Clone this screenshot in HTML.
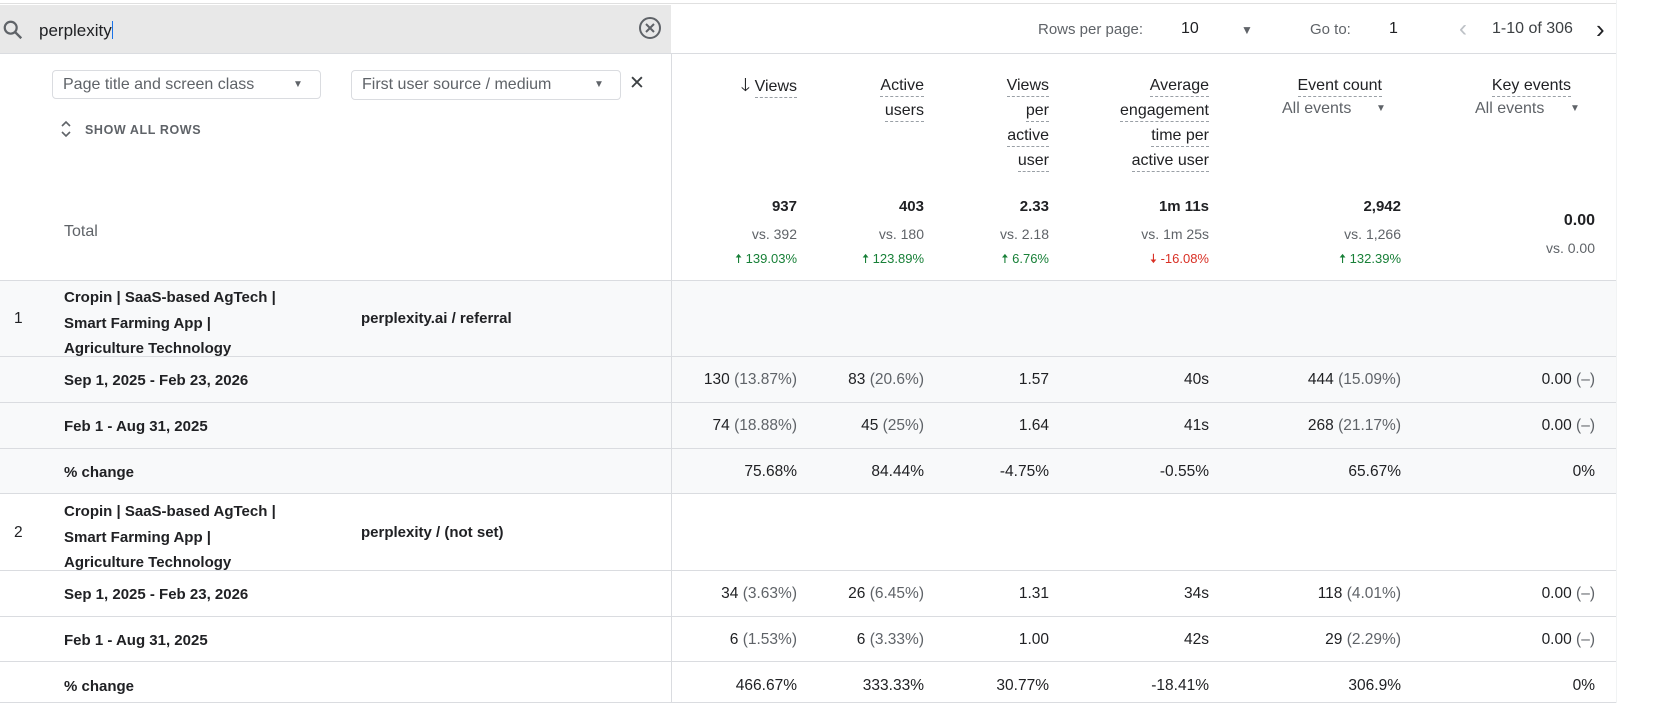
<!DOCTYPE html>
<html><head><meta charset="utf-8"><style>
*{margin:0;padding:0;box-sizing:border-box}
body{width:1667px;height:703px;background:#fff;font-family:"Liberation Sans",Arial,sans-serif;color:#202124;position:relative;overflow:hidden}
.a{position:absolute;white-space:nowrap;line-height:1}
.r{position:absolute;white-space:nowrap;line-height:1;text-align:right}
.band{position:absolute;left:0;width:1616px;background:#f8f9fa}
.hl{position:absolute;left:0;width:1616px;height:1px;background:#dadce0}
.u{border-bottom:1.5px dashed #9aa0a6;padding-bottom:2px}
.m{font-size:15.5px;color:#202124}
.g{color:#5f6368}
.s{font-size:14px;color:#5f6368}
.b{font-weight:bold;font-size:15px}
</style></head><body>
<div class="hl" style="top:3px;width:1616px;background:#e0e0e0"></div>
<div style="position:absolute;left:0;top:5px;width:671px;height:48px;background:#e8e8e8"></div>
<div style="position:absolute;left:1616px;top:0;width:1px;height:703px;background:#f1f3f4"></div>
<svg class="a" style="left:2px;top:19px" width="22" height="22" viewBox="0 0 24 24"><circle cx="9.5" cy="9.5" r="6.5" fill="none" stroke="#5f6368" stroke-width="2.4"/><line x1="14" y1="14" x2="21" y2="21" stroke="#5f6368" stroke-width="2.6"/></svg>
<div class="a" style="left:39px;top:21px;font-size:17px;color:#202124">perplexity<span style="display:inline-block;width:1px;height:18px;background:#1a73e8;vertical-align:-3px"></span></div>
<svg class="a" style="left:638px;top:16px" width="24" height="24" viewBox="0 0 24 24"><circle cx="12" cy="12" r="10" fill="none" stroke="#5f6368" stroke-width="2"/><path d="M8 8L16 16M16 8L8 16" stroke="#5f6368" stroke-width="2"/></svg>
<div class="hl" style="top:53px"></div>
<div style="position:absolute;left:671px;top:53px;width:1px;height:650px;background:#dadce0"></div>

<div class="a g" style="left:1038px;top:22px;font-size:15px">Rows per page:</div>
<div class="a" style="left:1181px;top:21px;font-size:16px">10</div>
<div class="a g" style="left:1241px;top:24px;font-size:12px">▼</div>
<div class="a g" style="left:1310px;top:22px;font-size:15px">Go to:</div>
<div class="a" style="left:1389px;top:21px;font-size:16px">1</div>
<div class="a" style="left:1459px;top:17px;font-size:24px;color:#bdc1c6">&#x2039;</div>
<div class="a" style="left:1492px;top:21px;font-size:16px;color:#3c4043">1-10 of 306</div>
<div class="a" style="left:1596px;top:16px;font-size:26px;color:#202124">&#x203A;</div>

<div style="position:absolute;left:52px;top:70px;width:269px;height:29px;border:1px solid #dadce0;border-radius:4px"></div>
<div class="a g" style="left:63px;top:77px;font-size:16px">Page title and screen class</div>
<div class="a g" style="left:293px;top:80px;font-size:10px">▼</div>
<div style="position:absolute;left:351px;top:70px;width:270px;height:30px;border:1px solid #dadce0;border-radius:4px"></div>
<div class="a g" style="left:362px;top:77px;font-size:16px">First user source / medium</div>
<div class="a g" style="left:594px;top:80px;font-size:10px">▼</div>
<div class="a" style="left:629px;top:74px;font-size:19px;color:#3c4043">✕</div>
<svg class="a" style="left:60px;top:119px" width="12" height="20" viewBox="0 0 12 20"><path d="M2 7L6 3L10 7M2 13L6 17L10 13" fill="none" stroke="#5f6368" stroke-width="1.6"/></svg>
<div class="a g" style="left:85px;top:124px;font-size:12.5px;font-weight:bold;letter-spacing:0.6px">SHOW ALL ROWS</div>
<div class="a g" style="left:64px;top:224px;font-size:16px">Total</div>

<div class="r" style="right:870px;top:73px;font-size:16px;line-height:25px"><span style="font-size:18px">🡓</span> <span class="u">Views</span></div>
<div class="r" style="right:743px;top:73px;font-size:16px;line-height:25px"><span class="u">Active</span><br><span class="u">users</span></div>
<div class="r" style="right:618px;top:73px;font-size:16px;line-height:25px"><span class="u">Views</span><br><span class="u">per</span><br><span class="u">active</span><br><span class="u">user</span></div>
<div class="r" style="right:458px;top:73px;font-size:16px;line-height:25px"><span class="u">Average</span><br><span class="u">engagement</span><br><span class="u">time per</span><br><span class="u">active user</span></div>
<div class="r" style="right:285px;top:73px;font-size:16px;line-height:25px"><span class="u">Event count</span></div>
<div class="a g" style="left:1282px;top:101px;font-size:16px">All events</div>
<div class="a g" style="left:1376px;top:104px;font-size:10px">▼</div>
<div class="r" style="right:96px;top:73px;font-size:16px;line-height:25px"><span class="u">Key events</span></div>
<div class="a g" style="left:1475px;top:101px;font-size:16px">All events</div>
<div class="a g" style="left:1570px;top:104px;font-size:10px">▼</div>

<div class="r b" style="right:870px;top:199px">937</div>
<div class="r b" style="right:743px;top:199px">403</div>
<div class="r b" style="right:618px;top:199px">2.33</div>
<div class="r b" style="right:458px;top:199px">1m 11s</div>
<div class="r b" style="right:266px;top:199px">2,942</div>
<div class="r b" style="right:72px;top:213px;font-size:16px">0.00</div>
<div class="r s" style="right:870px;top:227px">vs. 392</div>
<div class="r s" style="right:743px;top:227px">vs. 180</div>
<div class="r s" style="right:618px;top:227px">vs. 2.18</div>
<div class="r s" style="right:458px;top:227px">vs. 1m 25s</div>
<div class="r s" style="right:266px;top:227px">vs. 1,266</div>
<div class="r s" style="right:72px;top:241px">vs. 0.00</div>
<div class="r" style="right:870px;top:252px;font-size:13px;color:#188038">🠅 139.03%</div>
<div class="r" style="right:743px;top:252px;font-size:13px;color:#188038">🠅 123.89%</div>
<div class="r" style="right:618px;top:252px;font-size:13px;color:#188038">🠅 6.76%</div>
<div class="r" style="right:458px;top:252px;font-size:13px;color:#d93025">🠇 -16.08%</div>
<div class="r" style="right:266px;top:252px;font-size:13px;color:#188038">🠅 132.39%</div>

<div class="band" style="top:280px;height:213px"></div>
<div class="hl" style="top:280px"></div>
<div class="hl" style="top:356px"></div>
<div class="hl" style="top:402px"></div>
<div class="hl" style="top:448px"></div>
<div class="hl" style="top:493px"></div>
<div class="hl" style="top:570px"></div>
<div class="hl" style="top:616px"></div>
<div class="hl" style="top:661px"></div>
<div class="hl" style="top:702px"></div>
<div style="position:absolute;left:671px;top:280px;width:1px;height:423px;background:#dadce0"></div>

<div class="a m" style="left:14px;top:311px">1</div>
<div class="a b" style="left:64px;top:285px;line-height:25.5px;font-weight:bold">Cropin | SaaS-based AgTech |<br>Smart Farming App |<br>Agriculture Technology</div>
<div class="a b" style="left:361px;top:311px">perplexity.ai / referral</div>
<div class="a m" style="left:14px;top:525px">2</div>
<div class="a b" style="left:64px;top:499px;line-height:25.5px">Cropin | SaaS-based AgTech |<br>Smart Farming App |<br>Agriculture Technology</div>
<div class="a b" style="left:361px;top:525px">perplexity / (not set)</div>

<div class="a b" style="left:64px;top:373px">Sep 1, 2025 - Feb 23, 2026</div>
<div class="a b" style="left:64px;top:419px">Feb 1 - Aug 31, 2025</div>
<div class="a b" style="left:64px;top:465px">% change</div>
<div class="a b" style="left:64px;top:587px">Sep 1, 2025 - Feb 23, 2026</div>
<div class="a b" style="left:64px;top:633px">Feb 1 - Aug 31, 2025</div>
<div class="a b" style="left:64px;top:679px">% change</div>

<div class="r m" style="right:870px;top:372px">130 <span class="g">(13.87%)</span></div>
<div class="r m" style="right:743px;top:372px">83 <span class="g">(20.6%)</span></div>
<div class="r m" style="right:618px;top:372px">1.57</div>
<div class="r m" style="right:458px;top:372px">40s</div>
<div class="r m" style="right:266px;top:372px">444 <span class="g">(15.09%)</span></div>
<div class="r m" style="right:72px;top:372px">0.00 <span class="g">(–)</span></div>

<div class="r m" style="right:870px;top:418px">74 <span class="g">(18.88%)</span></div>
<div class="r m" style="right:743px;top:418px">45 <span class="g">(25%)</span></div>
<div class="r m" style="right:618px;top:418px">1.64</div>
<div class="r m" style="right:458px;top:418px">41s</div>
<div class="r m" style="right:266px;top:418px">268 <span class="g">(21.17%)</span></div>
<div class="r m" style="right:72px;top:418px">0.00 <span class="g">(–)</span></div>

<div class="r m" style="right:870px;top:464px">75.68%</div>
<div class="r m" style="right:743px;top:464px">84.44%</div>
<div class="r m" style="right:618px;top:464px">-4.75%</div>
<div class="r m" style="right:458px;top:464px">-0.55%</div>
<div class="r m" style="right:266px;top:464px">65.67%</div>
<div class="r m" style="right:72px;top:464px">0%</div>

<div class="r m" style="right:870px;top:586px">34 <span class="g">(3.63%)</span></div>
<div class="r m" style="right:743px;top:586px">26 <span class="g">(6.45%)</span></div>
<div class="r m" style="right:618px;top:586px">1.31</div>
<div class="r m" style="right:458px;top:586px">34s</div>
<div class="r m" style="right:266px;top:586px">118 <span class="g">(4.01%)</span></div>
<div class="r m" style="right:72px;top:586px">0.00 <span class="g">(–)</span></div>

<div class="r m" style="right:870px;top:632px">6 <span class="g">(1.53%)</span></div>
<div class="r m" style="right:743px;top:632px">6 <span class="g">(3.33%)</span></div>
<div class="r m" style="right:618px;top:632px">1.00</div>
<div class="r m" style="right:458px;top:632px">42s</div>
<div class="r m" style="right:266px;top:632px">29 <span class="g">(2.29%)</span></div>
<div class="r m" style="right:72px;top:632px">0.00 <span class="g">(–)</span></div>

<div class="r m" style="right:870px;top:678px">466.67%</div>
<div class="r m" style="right:743px;top:678px">333.33%</div>
<div class="r m" style="right:618px;top:678px">30.77%</div>
<div class="r m" style="right:458px;top:678px">-18.41%</div>
<div class="r m" style="right:266px;top:678px">306.9%</div>
<div class="r m" style="right:72px;top:678px">0%</div>
</body></html>
